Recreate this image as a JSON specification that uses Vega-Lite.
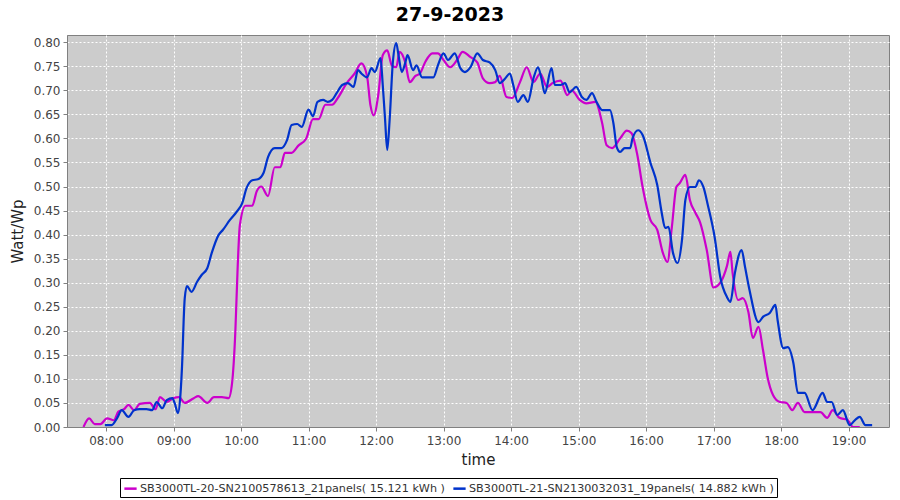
{
  "$schema": "https://vega.github.io/schema/vega-lite/v6.json",
  "width": 822,
  "height": 392,
  "autosize": "none",
  "padding": {"left": 67, "top": 35, "right": 11, "bottom": 73},
  "background": "white",
  "title": {"text": "27-9-2023", "fontSize": 19, "font": "DejaVu Sans", "fontWeight": "bold", "color": "black", "offset": 10, "anchor": "middle", "dx": -28},
  "config": {
    "view": {"fill": "#cccccc", "stroke": "#808080", "strokeWidth": 1},
    "axis": {"labelFont": "DejaVu Sans", "labelFontSize": 12, "labelColor": "#444444", "titleFont": "DejaVu Sans", "titleFontSize": 15, "titleFontWeight": "normal", "titleColor": "#222222", "domainColor": "#808080", "tickColor": "#808080", "tickSize": 4, "gridColor": "#ffffff", "gridDash": [2, 2], "gridOpacity": 1, "gridWidth": 1}
  },
  "data": {"values": [
    {"s": "A", "t": "2023-09-27T07:40", "v": 0.0},
    {"s": "A", "t": "2023-09-27T07:45", "v": 0.018},
    {"s": "A", "t": "2023-09-27T07:50", "v": 0.006},
    {"s": "A", "t": "2023-09-27T07:55", "v": 0.006},
    {"s": "A", "t": "2023-09-27T08:01", "v": 0.018},
    {"s": "A", "t": "2023-09-27T08:07", "v": 0.014},
    {"s": "A", "t": "2023-09-27T08:11", "v": 0.032},
    {"s": "A", "t": "2023-09-27T08:16", "v": 0.037},
    {"s": "A", "t": "2023-09-27T08:20", "v": 0.046},
    {"s": "A", "t": "2023-09-27T08:25", "v": 0.035},
    {"s": "A", "t": "2023-09-27T08:30", "v": 0.048},
    {"s": "A", "t": "2023-09-27T08:39", "v": 0.05},
    {"s": "A", "t": "2023-09-27T08:44", "v": 0.037},
    {"s": "A", "t": "2023-09-27T08:48", "v": 0.062},
    {"s": "A", "t": "2023-09-27T08:54", "v": 0.052},
    {"s": "A", "t": "2023-09-27T09:00", "v": 0.06},
    {"s": "A", "t": "2023-09-27T09:05", "v": 0.062},
    {"s": "A", "t": "2023-09-27T09:10", "v": 0.05},
    {"s": "A", "t": "2023-09-27T09:18", "v": 0.06},
    {"s": "A", "t": "2023-09-27T09:22", "v": 0.064},
    {"s": "A", "t": "2023-09-27T09:30", "v": 0.05},
    {"s": "A", "t": "2023-09-27T09:36", "v": 0.062},
    {"s": "A", "t": "2023-09-27T09:43", "v": 0.062},
    {"s": "A", "t": "2023-09-27T09:49", "v": 0.06},
    {"s": "A", "t": "2023-09-27T09:52", "v": 0.09},
    {"s": "A", "t": "2023-09-27T09:55", "v": 0.2},
    {"s": "A", "t": "2023-09-27T09:57", "v": 0.33},
    {"s": "A", "t": "2023-09-27T09:59", "v": 0.42},
    {"s": "A", "t": "2023-09-27T10:04", "v": 0.46},
    {"s": "A", "t": "2023-09-27T10:10", "v": 0.46},
    {"s": "A", "t": "2023-09-27T10:14", "v": 0.49},
    {"s": "A", "t": "2023-09-27T10:18", "v": 0.5},
    {"s": "A", "t": "2023-09-27T10:24", "v": 0.48},
    {"s": "A", "t": "2023-09-27T10:30", "v": 0.54},
    {"s": "A", "t": "2023-09-27T10:35", "v": 0.54},
    {"s": "A", "t": "2023-09-27T10:39", "v": 0.57},
    {"s": "A", "t": "2023-09-27T10:45", "v": 0.57},
    {"s": "A", "t": "2023-09-27T10:51", "v": 0.585},
    {"s": "A", "t": "2023-09-27T10:58", "v": 0.6},
    {"s": "A", "t": "2023-09-27T11:04", "v": 0.64},
    {"s": "A", "t": "2023-09-27T11:09", "v": 0.64},
    {"s": "A", "t": "2023-09-27T11:15", "v": 0.67},
    {"s": "A", "t": "2023-09-27T11:21", "v": 0.67},
    {"s": "A", "t": "2023-09-27T11:26", "v": 0.684},
    {"s": "A", "t": "2023-09-27T11:34", "v": 0.715},
    {"s": "A", "t": "2023-09-27T11:41", "v": 0.735},
    {"s": "A", "t": "2023-09-27T11:47", "v": 0.756},
    {"s": "A", "t": "2023-09-27T11:52", "v": 0.73},
    {"s": "A", "t": "2023-09-27T11:55", "v": 0.67},
    {"s": "A", "t": "2023-09-27T11:58", "v": 0.648},
    {"s": "A", "t": "2023-09-27T12:02", "v": 0.69},
    {"s": "A", "t": "2023-09-27T12:06", "v": 0.773},
    {"s": "A", "t": "2023-09-27T12:10", "v": 0.783},
    {"s": "A", "t": "2023-09-27T12:14", "v": 0.752},
    {"s": "A", "t": "2023-09-27T12:18", "v": 0.748},
    {"s": "A", "t": "2023-09-27T12:21", "v": 0.78},
    {"s": "A", "t": "2023-09-27T12:26", "v": 0.758},
    {"s": "A", "t": "2023-09-27T12:30", "v": 0.717},
    {"s": "A", "t": "2023-09-27T12:35", "v": 0.73},
    {"s": "A", "t": "2023-09-27T12:39", "v": 0.735},
    {"s": "A", "t": "2023-09-27T12:44", "v": 0.76},
    {"s": "A", "t": "2023-09-27T12:50", "v": 0.777},
    {"s": "A", "t": "2023-09-27T12:55", "v": 0.777},
    {"s": "A", "t": "2023-09-27T13:00", "v": 0.763},
    {"s": "A", "t": "2023-09-27T13:06", "v": 0.748},
    {"s": "A", "t": "2023-09-27T13:12", "v": 0.763},
    {"s": "A", "t": "2023-09-27T13:17", "v": 0.78},
    {"s": "A", "t": "2023-09-27T13:24", "v": 0.769},
    {"s": "A", "t": "2023-09-27T13:30", "v": 0.758},
    {"s": "A", "t": "2023-09-27T13:35", "v": 0.725},
    {"s": "A", "t": "2023-09-27T13:41", "v": 0.715},
    {"s": "A", "t": "2023-09-27T13:46", "v": 0.717},
    {"s": "A", "t": "2023-09-27T13:50", "v": 0.73},
    {"s": "A", "t": "2023-09-27T13:56", "v": 0.686},
    {"s": "A", "t": "2023-09-27T14:01", "v": 0.684},
    {"s": "A", "t": "2023-09-27T14:08", "v": 0.717},
    {"s": "A", "t": "2023-09-27T14:14", "v": 0.748},
    {"s": "A", "t": "2023-09-27T14:20", "v": 0.717},
    {"s": "A", "t": "2023-09-27T14:26", "v": 0.735},
    {"s": "A", "t": "2023-09-27T14:32", "v": 0.707},
    {"s": "A", "t": "2023-09-27T14:37", "v": 0.715},
    {"s": "A", "t": "2023-09-27T14:44", "v": 0.72},
    {"s": "A", "t": "2023-09-27T14:50", "v": 0.69},
    {"s": "A", "t": "2023-09-27T14:54", "v": 0.7},
    {"s": "A", "t": "2023-09-27T15:01", "v": 0.68},
    {"s": "A", "t": "2023-09-27T15:07", "v": 0.673},
    {"s": "A", "t": "2023-09-27T15:15", "v": 0.676},
    {"s": "A", "t": "2023-09-27T15:21", "v": 0.632},
    {"s": "A", "t": "2023-09-27T15:25", "v": 0.586},
    {"s": "A", "t": "2023-09-27T15:30", "v": 0.58},
    {"s": "A", "t": "2023-09-27T15:37", "v": 0.6},
    {"s": "A", "t": "2023-09-27T15:43", "v": 0.616},
    {"s": "A", "t": "2023-09-27T15:47", "v": 0.611},
    {"s": "A", "t": "2023-09-27T15:52", "v": 0.569},
    {"s": "A", "t": "2023-09-27T15:57", "v": 0.499},
    {"s": "A", "t": "2023-09-27T16:04", "v": 0.43},
    {"s": "A", "t": "2023-09-27T16:10", "v": 0.41},
    {"s": "A", "t": "2023-09-27T16:15", "v": 0.362},
    {"s": "A", "t": "2023-09-27T16:19", "v": 0.343},
    {"s": "A", "t": "2023-09-27T16:23", "v": 0.416},
    {"s": "A", "t": "2023-09-27T16:27", "v": 0.499},
    {"s": "A", "t": "2023-09-27T16:30", "v": 0.507},
    {"s": "A", "t": "2023-09-27T16:35", "v": 0.524},
    {"s": "A", "t": "2023-09-27T16:39", "v": 0.472},
    {"s": "A", "t": "2023-09-27T16:44", "v": 0.445},
    {"s": "A", "t": "2023-09-27T16:48", "v": 0.426},
    {"s": "A", "t": "2023-09-27T16:54", "v": 0.368},
    {"s": "A", "t": "2023-09-27T17:00", "v": 0.29},
    {"s": "A", "t": "2023-09-27T17:06", "v": 0.3},
    {"s": "A", "t": "2023-09-27T17:12", "v": 0.335},
    {"s": "A", "t": "2023-09-27T17:15", "v": 0.364},
    {"s": "A", "t": "2023-09-27T17:17", "v": 0.32},
    {"s": "A", "t": "2023-09-27T17:22", "v": 0.264},
    {"s": "A", "t": "2023-09-27T17:26", "v": 0.268},
    {"s": "A", "t": "2023-09-27T17:31", "v": 0.239},
    {"s": "A", "t": "2023-09-27T17:35", "v": 0.185},
    {"s": "A", "t": "2023-09-27T17:40", "v": 0.208},
    {"s": "A", "t": "2023-09-27T17:44", "v": 0.16},
    {"s": "A", "t": "2023-09-27T17:48", "v": 0.104},
    {"s": "A", "t": "2023-09-27T17:53", "v": 0.066},
    {"s": "A", "t": "2023-09-27T17:59", "v": 0.052},
    {"s": "A", "t": "2023-09-27T18:05", "v": 0.05},
    {"s": "A", "t": "2023-09-27T18:10", "v": 0.035},
    {"s": "A", "t": "2023-09-27T18:15", "v": 0.05},
    {"s": "A", "t": "2023-09-27T18:21", "v": 0.031},
    {"s": "A", "t": "2023-09-27T18:28", "v": 0.031},
    {"s": "A", "t": "2023-09-27T18:35", "v": 0.031},
    {"s": "A", "t": "2023-09-27T18:41", "v": 0.019},
    {"s": "A", "t": "2023-09-27T18:46", "v": 0.035},
    {"s": "A", "t": "2023-09-27T18:52", "v": 0.019},
    {"s": "A", "t": "2023-09-27T18:59", "v": 0.015},
    {"s": "A", "t": "2023-09-27T19:04", "v": 0.0},
    {"s": "A", "t": "2023-09-27T19:10", "v": 0.0},
    {"s": "B", "t": "2023-09-27T07:59", "v": 0.004},
    {"s": "B", "t": "2023-09-27T08:05", "v": 0.004},
    {"s": "B", "t": "2023-09-27T08:10", "v": 0.019},
    {"s": "B", "t": "2023-09-27T08:14", "v": 0.035},
    {"s": "B", "t": "2023-09-27T08:20", "v": 0.021},
    {"s": "B", "t": "2023-09-27T08:25", "v": 0.035},
    {"s": "B", "t": "2023-09-27T08:30", "v": 0.037},
    {"s": "B", "t": "2023-09-27T08:36", "v": 0.037},
    {"s": "B", "t": "2023-09-27T08:41", "v": 0.035},
    {"s": "B", "t": "2023-09-27T08:45", "v": 0.052},
    {"s": "B", "t": "2023-09-27T08:50", "v": 0.039},
    {"s": "B", "t": "2023-09-27T08:54", "v": 0.056},
    {"s": "B", "t": "2023-09-27T08:59", "v": 0.06},
    {"s": "B", "t": "2023-09-27T09:01", "v": 0.05},
    {"s": "B", "t": "2023-09-27T09:04", "v": 0.029},
    {"s": "B", "t": "2023-09-27T09:06", "v": 0.062},
    {"s": "B", "t": "2023-09-27T09:08", "v": 0.15},
    {"s": "B", "t": "2023-09-27T09:09", "v": 0.22},
    {"s": "B", "t": "2023-09-27T09:10", "v": 0.268},
    {"s": "B", "t": "2023-09-27T09:12", "v": 0.293},
    {"s": "B", "t": "2023-09-27T09:16", "v": 0.281},
    {"s": "B", "t": "2023-09-27T09:21", "v": 0.302},
    {"s": "B", "t": "2023-09-27T09:25", "v": 0.316},
    {"s": "B", "t": "2023-09-27T09:30", "v": 0.33},
    {"s": "B", "t": "2023-09-27T09:34", "v": 0.362},
    {"s": "B", "t": "2023-09-27T09:40", "v": 0.399},
    {"s": "B", "t": "2023-09-27T09:44", "v": 0.41},
    {"s": "B", "t": "2023-09-27T09:50", "v": 0.43},
    {"s": "B", "t": "2023-09-27T09:56", "v": 0.447},
    {"s": "B", "t": "2023-09-27T10:01", "v": 0.465},
    {"s": "B", "t": "2023-09-27T10:05", "v": 0.497},
    {"s": "B", "t": "2023-09-27T10:10", "v": 0.513},
    {"s": "B", "t": "2023-09-27T10:15", "v": 0.515},
    {"s": "B", "t": "2023-09-27T10:20", "v": 0.528},
    {"s": "B", "t": "2023-09-27T10:24", "v": 0.561},
    {"s": "B", "t": "2023-09-27T10:30", "v": 0.58},
    {"s": "B", "t": "2023-09-27T10:36", "v": 0.58},
    {"s": "B", "t": "2023-09-27T10:41", "v": 0.597},
    {"s": "B", "t": "2023-09-27T10:45", "v": 0.628},
    {"s": "B", "t": "2023-09-27T10:50", "v": 0.63},
    {"s": "B", "t": "2023-09-27T10:54", "v": 0.624},
    {"s": "B", "t": "2023-09-27T11:00", "v": 0.66},
    {"s": "B", "t": "2023-09-27T11:04", "v": 0.646},
    {"s": "B", "t": "2023-09-27T11:08", "v": 0.676},
    {"s": "B", "t": "2023-09-27T11:13", "v": 0.68},
    {"s": "B", "t": "2023-09-27T11:17", "v": 0.676},
    {"s": "B", "t": "2023-09-27T11:21", "v": 0.68},
    {"s": "B", "t": "2023-09-27T11:25", "v": 0.694},
    {"s": "B", "t": "2023-09-27T11:30", "v": 0.711},
    {"s": "B", "t": "2023-09-27T11:35", "v": 0.715},
    {"s": "B", "t": "2023-09-27T11:40", "v": 0.707},
    {"s": "B", "t": "2023-09-27T11:44", "v": 0.742},
    {"s": "B", "t": "2023-09-27T11:47", "v": 0.735},
    {"s": "B", "t": "2023-09-27T11:52", "v": 0.727},
    {"s": "B", "t": "2023-09-27T11:56", "v": 0.746},
    {"s": "B", "t": "2023-09-27T11:59", "v": 0.738},
    {"s": "B", "t": "2023-09-27T12:04", "v": 0.767},
    {"s": "B", "t": "2023-09-27T12:06", "v": 0.711},
    {"s": "B", "t": "2023-09-27T12:08", "v": 0.642},
    {"s": "B", "t": "2023-09-27T12:10", "v": 0.576},
    {"s": "B", "t": "2023-09-27T12:12", "v": 0.634},
    {"s": "B", "t": "2023-09-27T12:15", "v": 0.759},
    {"s": "B", "t": "2023-09-27T12:18", "v": 0.798},
    {"s": "B", "t": "2023-09-27T12:20", "v": 0.773},
    {"s": "B", "t": "2023-09-27T12:23", "v": 0.738},
    {"s": "B", "t": "2023-09-27T12:26", "v": 0.757},
    {"s": "B", "t": "2023-09-27T12:28", "v": 0.773},
    {"s": "B", "t": "2023-09-27T12:33", "v": 0.742},
    {"s": "B", "t": "2023-09-27T12:36", "v": 0.752},
    {"s": "B", "t": "2023-09-27T12:41", "v": 0.727},
    {"s": "B", "t": "2023-09-27T12:46", "v": 0.727},
    {"s": "B", "t": "2023-09-27T12:51", "v": 0.727},
    {"s": "B", "t": "2023-09-27T12:55", "v": 0.752},
    {"s": "B", "t": "2023-09-27T13:00", "v": 0.777},
    {"s": "B", "t": "2023-09-27T13:04", "v": 0.763},
    {"s": "B", "t": "2023-09-27T13:10", "v": 0.777},
    {"s": "B", "t": "2023-09-27T13:15", "v": 0.746},
    {"s": "B", "t": "2023-09-27T13:19", "v": 0.738},
    {"s": "B", "t": "2023-09-27T13:24", "v": 0.748},
    {"s": "B", "t": "2023-09-27T13:30", "v": 0.777},
    {"s": "B", "t": "2023-09-27T13:35", "v": 0.763},
    {"s": "B", "t": "2023-09-27T13:41", "v": 0.758},
    {"s": "B", "t": "2023-09-27T13:46", "v": 0.742},
    {"s": "B", "t": "2023-09-27T13:50", "v": 0.715},
    {"s": "B", "t": "2023-09-27T13:55", "v": 0.725},
    {"s": "B", "t": "2023-09-27T13:59", "v": 0.735},
    {"s": "B", "t": "2023-09-27T14:02", "v": 0.711},
    {"s": "B", "t": "2023-09-27T14:06", "v": 0.676},
    {"s": "B", "t": "2023-09-27T14:11", "v": 0.69},
    {"s": "B", "t": "2023-09-27T14:15", "v": 0.676},
    {"s": "B", "t": "2023-09-27T14:20", "v": 0.725},
    {"s": "B", "t": "2023-09-27T14:24", "v": 0.748},
    {"s": "B", "t": "2023-09-27T14:27", "v": 0.725},
    {"s": "B", "t": "2023-09-27T14:30", "v": 0.694},
    {"s": "B", "t": "2023-09-27T14:36", "v": 0.746},
    {"s": "B", "t": "2023-09-27T14:39", "v": 0.711},
    {"s": "B", "t": "2023-09-27T14:44", "v": 0.711},
    {"s": "B", "t": "2023-09-27T14:48", "v": 0.715},
    {"s": "B", "t": "2023-09-27T14:52", "v": 0.696},
    {"s": "B", "t": "2023-09-27T14:58", "v": 0.707},
    {"s": "B", "t": "2023-09-27T15:03", "v": 0.686},
    {"s": "B", "t": "2023-09-27T15:07", "v": 0.68},
    {"s": "B", "t": "2023-09-27T15:12", "v": 0.694},
    {"s": "B", "t": "2023-09-27T15:16", "v": 0.676},
    {"s": "B", "t": "2023-09-27T15:21", "v": 0.659},
    {"s": "B", "t": "2023-09-27T15:28", "v": 0.659},
    {"s": "B", "t": "2023-09-27T15:31", "v": 0.632},
    {"s": "B", "t": "2023-09-27T15:34", "v": 0.582},
    {"s": "B", "t": "2023-09-27T15:37", "v": 0.572},
    {"s": "B", "t": "2023-09-27T15:41", "v": 0.58},
    {"s": "B", "t": "2023-09-27T15:46", "v": 0.58},
    {"s": "B", "t": "2023-09-27T15:48", "v": 0.6},
    {"s": "B", "t": "2023-09-27T15:53", "v": 0.617},
    {"s": "B", "t": "2023-09-27T15:57", "v": 0.607},
    {"s": "B", "t": "2023-09-27T16:04", "v": 0.549},
    {"s": "B", "t": "2023-09-27T16:10", "v": 0.503},
    {"s": "B", "t": "2023-09-27T16:14", "v": 0.445},
    {"s": "B", "t": "2023-09-27T16:17", "v": 0.414},
    {"s": "B", "t": "2023-09-27T16:20", "v": 0.416},
    {"s": "B", "t": "2023-09-27T16:24", "v": 0.362},
    {"s": "B", "t": "2023-09-27T16:28", "v": 0.341},
    {"s": "B", "t": "2023-09-27T16:32", "v": 0.389},
    {"s": "B", "t": "2023-09-27T16:35", "v": 0.472},
    {"s": "B", "t": "2023-09-27T16:39", "v": 0.499},
    {"s": "B", "t": "2023-09-27T16:44", "v": 0.499},
    {"s": "B", "t": "2023-09-27T16:47", "v": 0.513},
    {"s": "B", "t": "2023-09-27T16:51", "v": 0.499},
    {"s": "B", "t": "2023-09-27T16:55", "v": 0.461},
    {"s": "B", "t": "2023-09-27T17:01", "v": 0.395},
    {"s": "B", "t": "2023-09-27T17:06", "v": 0.312},
    {"s": "B", "t": "2023-09-27T17:12", "v": 0.27},
    {"s": "B", "t": "2023-09-27T17:15", "v": 0.26},
    {"s": "B", "t": "2023-09-27T17:19", "v": 0.32},
    {"s": "B", "t": "2023-09-27T17:25", "v": 0.368},
    {"s": "B", "t": "2023-09-27T17:28", "v": 0.333},
    {"s": "B", "t": "2023-09-27T17:32", "v": 0.285},
    {"s": "B", "t": "2023-09-27T17:40", "v": 0.218},
    {"s": "B", "t": "2023-09-27T17:44", "v": 0.229},
    {"s": "B", "t": "2023-09-27T17:50", "v": 0.237},
    {"s": "B", "t": "2023-09-27T17:55", "v": 0.254},
    {"s": "B", "t": "2023-09-27T17:57", "v": 0.222},
    {"s": "B", "t": "2023-09-27T18:02", "v": 0.164},
    {"s": "B", "t": "2023-09-27T18:06", "v": 0.166},
    {"s": "B", "t": "2023-09-27T18:11", "v": 0.133},
    {"s": "B", "t": "2023-09-27T18:15", "v": 0.071},
    {"s": "B", "t": "2023-09-27T18:21", "v": 0.071},
    {"s": "B", "t": "2023-09-27T18:28", "v": 0.035},
    {"s": "B", "t": "2023-09-27T18:37", "v": 0.071},
    {"s": "B", "t": "2023-09-27T18:41", "v": 0.052},
    {"s": "B", "t": "2023-09-27T18:45", "v": 0.052},
    {"s": "B", "t": "2023-09-27T18:50", "v": 0.025},
    {"s": "B", "t": "2023-09-27T18:55", "v": 0.035},
    {"s": "B", "t": "2023-09-27T19:01", "v": 0.004},
    {"s": "B", "t": "2023-09-27T19:06", "v": 0.015},
    {"s": "B", "t": "2023-09-27T19:10", "v": 0.021},
    {"s": "B", "t": "2023-09-27T19:15", "v": 0.004},
    {"s": "B", "t": "2023-09-27T19:21", "v": 0.004}
  ]},
  "mark": {"type": "line", "interpolate": "monotone", "strokeWidth": 2.2, "clip": true},
  "encoding": {
    "x": {"field": "t", "type": "temporal", "title": "time",
      "scale": {"domain": [{"year": 2023, "month": 9, "date": 27, "hours": 7, "minutes": 25, "seconds": 20}, {"year": 2023, "month": 9, "date": 27, "hours": 19, "minutes": 36}]},
      "axis": {"format": "%H:%M", "tickCount": "hour", "labelPadding": 4, "titlePadding": 6}},
    "y": {"field": "v", "type": "quantitative", "title": "Watt/Wp",
      "scale": {"domain": [0, 0.815], "nice": false, "zero": true},
      "axis": {"values": [0, 0.05, 0.1, 0.15, 0.2, 0.25, 0.3, 0.35, 0.4, 0.45, 0.5, 0.55, 0.6, 0.65, 0.7, 0.75, 0.8], "format": ".2f", "labelPadding": 3, "titlePadding": 8}},
    "color": {"field": "s", "type": "nominal",
      "scale": {"domain": ["A", "B"], "range": ["#cc00cc", "#0033cc"]},
      "legend": {"title": null, "orient": "none", "legendX": 53, "legendY": 443, "direction": "horizontal", "columns": 2,
        "labelExpr": "datum.value == 'A' ? 'SB3000TL-20-SN2100578613_21panels( 15.121 kWh )' : 'SB3000TL-21-SN2130032031_19panels( 14.882 kWh )'",
        "labelFont": "DejaVu Sans", "labelFontSize": 11.2, "labelColor": "#333333", "labelLimit": 400, "labelOffset": 2,
        "symbolType": "stroke", "symbolStrokeWidth": 2.5, "symbolSize": 150, "columnPadding": 3,
        "strokeColor": "#000000", "padding": 3, "fillColor": "white"}}
  }
}
